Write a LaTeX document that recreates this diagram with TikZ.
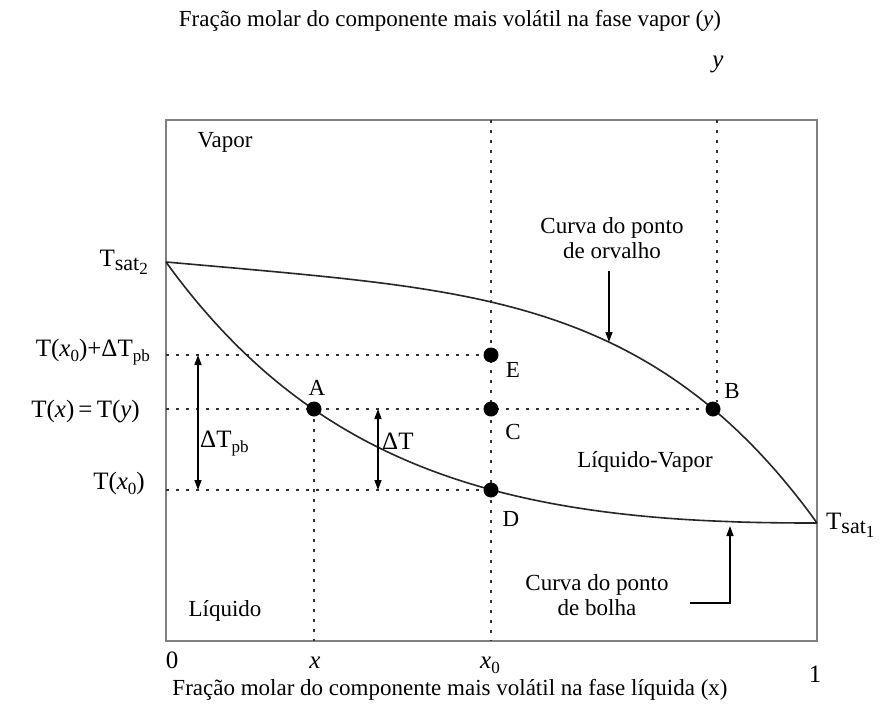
\documentclass[tikz,border=0pt]{standalone}
\usepackage{fontspec}
\setmainfont{Liberation Serif}
\usetikzlibrary{arrows.meta}
\newcommand{\lsub}[1]{\raisebox{-5pt}{\fontsize{17}{17}\selectfont #1}}
\newcommand{\tsat}[1]{T{\fontsize{22}{22}\selectfont\raisebox{-4pt}{sat\raisebox{-4pt}{\fontsize{17}{17}\selectfont #1}}}}
\begin{document}
\begin{tikzpicture}[x=1pt,y=-1pt,
  font=\fontsize{23}{25}\selectfont,
  frame/.style={draw=black!50, line width=2.6pt},
  curve/.style={draw=black!85, line width=1.6pt},
  guide/.style={draw=black!80, line width=1.5pt, dash pattern=on 3pt off 7pt},
  dot/.style={circle, fill=black, inner sep=0pt, minimum size=15pt},
  arr/.style={-{Triangle[length=10pt,width=7pt]}, line width=1.4pt},
  darr/.style={{Triangle[length=10pt,width=7pt]}-{Triangle[length=10pt,width=7pt]}, line width=1.4pt},
  lbl/.style={inner sep=0pt},
  biglbl/.style={inner sep=0pt, font=\fontsize{25}{27}\selectfont}]
\useasboundingbox (0,0) rectangle (888,706);
\fill[white] (0,0) rectangle (888,706);

% frame
\coordinate (TL) at (166,120);
\coordinate (BR) at (817,641);
\draw[frame] (TL) rectangle (BR);

% points
\coordinate (S2) at (166,262);
\coordinate (S1) at (817,523);
\coordinate (L1) at (166,355);
\coordinate (L2) at (166,409);
\coordinate (L3) at (166,490);
\coordinate (X0top) at (491,120);
\coordinate (X0bot) at (491,641);
\coordinate (Xbot) at (314,641);
\coordinate (Ytop) at (717,120);
\coordinate (Yend) at (717,402);
\coordinate (Apt) at (314,409);
\coordinate (Bpt) at (713,409);
\coordinate (Cpt) at (491,409);
\coordinate (Dpt) at (491,490);
\coordinate (Ept) at (491,355);

% guides
\draw[guide] (L1) -- (Ept);
\draw[guide] (L2) -- (Bpt);
\draw[guide] (L3) -- (Dpt);
\draw[guide] (X0top) -- (X0bot);
\draw[guide] (Apt) -- (Xbot);
\draw[guide] (Ytop) -- (Yend);

% dew-point curve
\draw[curve] (S2) -- plot[domain=0.01:1, samples=90]
  ({166+651*\x}, {262+261*(0.22*\x+0.78*exp(4.16*ln(\x)))});
% bubble-point curve
\draw[curve] plot[domain=0:0.995, samples=110]
  ({166+651*\x}, {262+261*(1-exp((3.45-0.95*\x)*ln(1-\x)))}) -- (S1);

% dots
\node[dot] (A) at (Apt) {};
\node[dot] (B) at (Bpt) {};
\node[dot] (C) at (Cpt) {};
\node[dot] (D) at (Dpt) {};
\node[dot] (E) at (Ept) {};

% delta arrows
\coordinate (P1) at (198,355);
\coordinate (P2) at (198,490);
\draw[darr] (P1) -- (P2);
\coordinate (Q1) at (378,409);
\coordinate (Q2) at (378,490);
\draw[darr] (Q1) -- (Q2);

% curve labels with arrows
\node[lbl, align=center] (dewlbl) at (612,238) {Curva do ponto\\de orvalho};
\coordinate (dewstart) at (609,271);
\coordinate (dewtip) at (609,342);
\draw[arr] (dewstart) -- (dewtip);

\node[lbl, align=center] (bublbl) at (597,595) {Curva do ponto\\de bolha};
\coordinate (bubstart) at (690,603);
\coordinate (bubcorner) at (730,603);
\coordinate (bubtip) at (730,526);
\draw[arr] (bubstart) -- (bubcorner) -- (bubtip);

% region labels
\node[lbl] (vapor) at (225,142) {Vapor};
\node[lbl] (lv) at (645,462) {Líquido-Vapor};
\node[lbl] (liq) at (225,611) {Líquido};

% point labels
\node[lbl] (Alab) at (317,388) {A};
\node[lbl] (Blab) at (732,391) {B};
\node[lbl] (Clab) at (513,432) {C};
\node[lbl] (Dlab) at (511,519) {D};
\node[lbl] (Elab) at (513,370) {E};

% delta labels
\node[biglbl, anchor=base west] (dtpb) at (200,447) {ΔT\lsub{pb}};
\node[biglbl, anchor=base west] (dt) at (382,449) {ΔT};

% temperature labels
\node[biglbl, anchor=base east] (ts2) at (148,266) {\tsat{2}};
\node[biglbl, anchor=base west] (ts1) at (826,529) {\tsat{1}};
\node[biglbl, anchor=base east] (t1) at (150,356) {T(\textit{x}\lsub{0})+ΔT\lsub{pb}};
\node[biglbl, anchor=base east] (t2) at (140,417) {T(\textit{x})\,=\,T(\textit{y})};
\node[biglbl, anchor=base east] (t3) at (145,489) {T(\textit{x}\lsub{0})};

% axis labels
\node[biglbl, anchor=base] (zero) at (172,668) {0};
\node[biglbl, anchor=base] (xl) at (315,668) {\textit{x}};
\node[biglbl, anchor=base] (x0l) at (490,668) {\textit{x}\lsub{0}};
\node[biglbl, anchor=base] (one) at (815,682) {1};
\node[biglbl, anchor=base] (yl) at (718,68) {\textit{y}};

% titles
\node[lbl] (toptitle) at (450,21) {Fração molar do componente mais volátil na fase vapor (\textit{y})};
\node[lbl] (bottitle) at (450,690) {Fração molar do componente mais volátil na fase líquida (x)};
\end{tikzpicture}
\end{document}
